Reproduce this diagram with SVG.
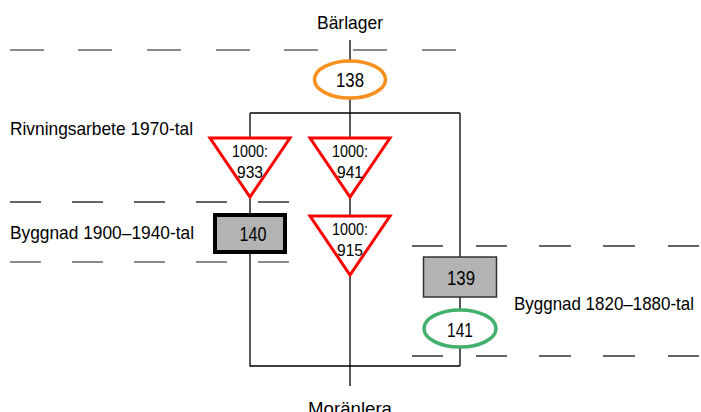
<svg xmlns="http://www.w3.org/2000/svg" width="701" height="412" viewBox="0 0 701 412">
<style>
text{font-family:"Liberation Sans",Arial,sans-serif;fill:#000;}
.lbl{font-size:19px;}
.num{font-size:20px;text-anchor:middle;}
.tri{font-size:16.5px;text-anchor:middle;}
.dash{stroke:#333;stroke-width:1.3;fill:none;}
.dashg{stroke:#666;stroke-width:1.3;fill:none;}
.conn{stroke:#000;stroke-width:1.3;fill:none;}
.rt{fill:#fff;stroke:#FF0000;stroke-width:3;stroke-linejoin:miter;}
</style>
<rect width="701" height="412" fill="#fff"/>
<g id="layers">
<path class="dashg" d="M10 50H44M78 50H112M147 50H181M216 50H250M284 50H318M353 50H387M422 50H456"/>
<path class="dash" d="M10 202H41M72 202H103M134 202H165M196 202H227M258 202H289"/>
<path class="dashg" d="M10 262H41M72 262H103M134 262H165M196 262H227M258 262H289"/>
<path class="dash" d="M412 246H443M476 246H507M539 246H571M603 246H635M668 246H699"/>
<path class="dash" d="M412 356H443M476 356H507M539 356H571M603 356H635M668 356H699"/>
</g>
<g id="labels">
<text class="lbl" x="350" y="29" text-anchor="middle" textLength="66" lengthAdjust="spacingAndGlyphs">Bärlager</text>
<text class="lbl" x="10" y="135" textLength="183" lengthAdjust="spacingAndGlyphs">Rivningsarbete 1970-tal</text>
<text class="lbl" x="10" y="239" textLength="184" lengthAdjust="spacingAndGlyphs">Byggnad 1900–1940-tal</text>
<text class="lbl" x="514" y="310" textLength="180" lengthAdjust="spacingAndGlyphs">Byggnad 1820–1880-tal</text>
<text class="lbl" x="350" y="415" text-anchor="middle" textLength="84" lengthAdjust="spacingAndGlyphs">Moränlera</text>
</g>
<g id="connectors">
<path class="conn" d="M350 40V61"/>
<path class="conn" d="M350 99V113" stroke-width="2"/>
<path class="conn" d="M250 113H460"/>
<path class="conn" d="M250 113V138M250 197V215M250 254V366H460"/>
<path class="conn" d="M350 113V138M350 197V215M350 275V386"/>
<path class="conn" d="M460 113V257M460 297V309M460 348V366"/>
</g>
<g id="n138">
<ellipse cx="350" cy="79.5" rx="35.5" ry="18.5" fill="#fff" stroke="#F7901E" stroke-width="3.5"/>
<text class="num" x="350" y="87" textLength="28" lengthAdjust="spacingAndGlyphs">138</text>
</g>
<g id="n933">
<polygon class="rt" points="210,138 290,138 250,197"/>
<text class="tri" x="250" y="157" textLength="36" lengthAdjust="spacingAndGlyphs">1000:</text>
<text class="tri" x="250" y="178" textLength="26" lengthAdjust="spacingAndGlyphs">933</text>
</g>
<g id="n941">
<polygon class="rt" points="310,138 390,138 350,197"/>
<text class="tri" x="350" y="157" textLength="36" lengthAdjust="spacingAndGlyphs">1000:</text>
<text class="tri" x="350" y="178" textLength="26" lengthAdjust="spacingAndGlyphs">941</text>
</g>
<g id="n915">
<polygon class="rt" points="310,216 390,216 350,275"/>
<text class="tri" x="350" y="235" textLength="36" lengthAdjust="spacingAndGlyphs">1000:</text>
<text class="tri" x="350" y="256" textLength="26" lengthAdjust="spacingAndGlyphs">915</text>
</g>
<g id="n140">
<rect x="215" y="215" width="70" height="37" fill="#B3B3B3" stroke="#000" stroke-width="4"/>
<text class="num" x="253" y="241" textLength="27" lengthAdjust="spacingAndGlyphs">140</text>
</g>
<g id="n139">
<rect x="423.5" y="257" width="73" height="40" fill="#B3B3B3" stroke="#333" stroke-width="1.5"/>
<text class="num" x="461" y="285" textLength="28" lengthAdjust="spacingAndGlyphs">139</text>
</g>
<g id="n141">
<ellipse cx="460" cy="328.5" rx="36" ry="18.5" fill="#fff" stroke="#43B06C" stroke-width="3.5"/>
<text class="num" x="460" y="337" textLength="26" lengthAdjust="spacingAndGlyphs">141</text>
</g>
</svg>
